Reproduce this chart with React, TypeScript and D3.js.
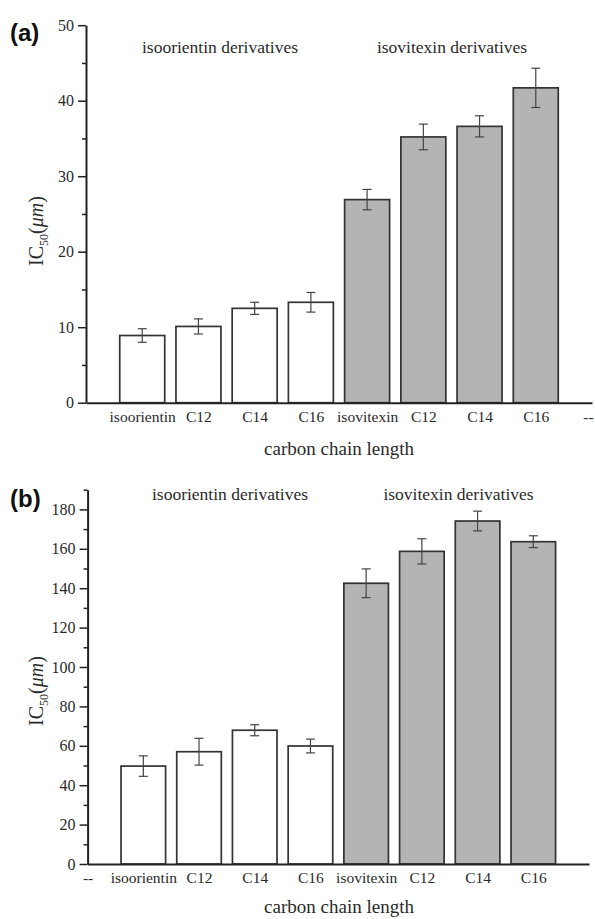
import React, { useEffect, useRef } from 'react';
import * as d3 from 'd3';

// category slots on the x axis (0 and 9 are the empty "--" slots)
const labelsA = ['', 'isoorientin', 'C12', 'C14', 'C16', 'isovitexin', 'C12', 'C14', 'C16', '--'];
const labelsB = ['--', 'isoorientin', 'C12', 'C14', 'C16', 'isovitexin', 'C12', 'C14', 'C16', ''];

// IC50 values (slots 1..8), and their errors
const valuesA = [8.9, 10.1, 12.5, 13.3, 26.9, 35.2, 36.6, 41.7];
const errorsA = [0.9, 1.0, 0.8, 1.3, 1.35, 1.7, 1.4, 2.6];
const valuesB = [49.7, 57.0, 67.9, 59.9, 142.5, 158.7, 174.1, 163.6];
const errorsB = [5.2, 6.8, 2.8, 3.5, 7.3, 6.4, 5.0, 3.0];

const ticksA = [0, 10, 20, 30, 40, 50];
const minorA = [5, 15, 25, 35, 45];
const ticksB = [0, 20, 40, 60, 80, 100, 120, 140, 160, 180];
const minorB = [10, 30, 50, 70, 90, 110, 130, 150, 170, 190];

const groupLabels = ['isoorientin derivatives', 'isovitexin derivatives'];

const serif = '"Liberation Serif", "Times New Roman", serif';

const App = () => {
    const svgRef = useRef();

    useEffect(() => {
        const svg = d3.select(svgRef.current);
        svg.selectAll('*').remove();

        const drawPanel = (opts) => {
            const { tag, labels, values, errors, ticks, minor, yMax, x0, x1, yTop, yBottom, groupY, groupX, titleY, ylabelY } = opts;
            const g = svg.append('g');
            const x = d3.scalePoint().domain(d3.range(10)).range([x0, x1]);
            const y = d3.scaleLinear().domain([0, yMax]).range([yBottom, yTop]);
            const bw = x.step() * 0.8;

            // bars
            values.forEach((v, i) => {
                const cx = x(i + 1);
                g.append('rect')
                    .attr('x', cx - bw / 2)
                    .attr('y', y(v))
                    .attr('width', bw)
                    .attr('height', y(0) - y(v))
                    .attr('fill', i < 4 ? '#ffffff' : '#b4b4b4')
                    .attr('stroke', '#333')
                    .attr('stroke-width', 1.7);
                const e = errors[i];
                const eb = g.append('g').attr('stroke', '#444').attr('stroke-width', 1.2);
                eb.append('line').attr('x1', cx).attr('x2', cx).attr('y1', y(v + e)).attr('y2', y(v - e));
                eb.append('line').attr('x1', cx - 4.5).attr('x2', cx + 4.5).attr('y1', y(v + e)).attr('y2', y(v + e));
                eb.append('line').attr('x1', cx - 4.5).attr('x2', cx + 4.5).attr('y1', y(v - e)).attr('y2', y(v - e));
            });

            // y axis
            const ya = g.append('g').attr('transform', `translate(${x0},0)`)
                .call(d3.axisLeft(y).tickValues(ticks).tickSize(8).tickSizeOuter(0).tickPadding(4));
            const ym = g.append('g').attr('transform', `translate(${x0},0)`)
                .call(d3.axisLeft(y).tickValues(minor).tickSize(4).tickFormat(() => ''));
            ym.select('.domain').remove();
            [ya, ym].forEach(a => {
                a.selectAll('line').attr('stroke', '#222').attr('stroke-width', 1.5);
                a.select('.domain').attr('stroke', '#222').attr('stroke-width', 2);
            });
            ya.selectAll('text').attr('font-family', serif).attr('font-size', 16).attr('fill', '#2a2a2a');

            // x axis
            const xa = g.append('g').attr('transform', `translate(0,${yBottom})`)
                .call(d3.axisBottom(x).tickSize(0).tickSizeOuter(0).tickPadding(8).tickFormat(i => labels[i]));
            xa.select('.domain').attr('stroke', '#222').attr('stroke-width', 2);
            xa.selectAll('text').attr('font-family', serif).attr('font-size', 15.5).attr('fill', '#2a2a2a')
                .attr('dx', i => (i === 9 ? -4 : 0));

            // group labels
            groupLabels.forEach((t, i) => {
                g.append('text').attr('x', groupX[i]).attr('y', groupY)
                    .attr('text-anchor', 'middle').attr('font-family', serif)
                    .attr('font-size', 17.5).attr('fill', '#2a2a2a').text(t);
            });

            // x title
            g.append('text').attr('x', 339).attr('y', titleY).attr('text-anchor', 'middle')
                .attr('font-family', serif).attr('font-size', 19).attr('fill', '#2a2a2a')
                .text('carbon chain length');

            // y title
            const yt = g.append('text')
                .attr('transform', `translate(43,${ylabelY}) rotate(-90)`)
                .attr('text-anchor', 'middle').attr('font-family', serif)
                .attr('font-size', 20).attr('fill', '#2a2a2a');
            yt.append('tspan').text('IC');
            yt.append('tspan').attr('font-size', 12).attr('dy', 5).text('50');
            yt.append('tspan').attr('dy', -5).text('(');
            yt.append('tspan').attr('font-style', 'italic').text('μ');
            yt.append('tspan').attr('font-style', 'italic').text('m');
            yt.append('tspan').text(')');

            // panel tag
            svg.append('text').attr('x', 10).attr('y', tag === '(a)' ? 41 : 507)
                .attr('font-family', '"Liberation Sans", Arial, sans-serif')
                .attr('font-weight', 'bold').attr('font-size', 24).attr('fill', '#111')
                .text(tag);
        };

        drawPanel({
            tag: '(a)', labels: labelsA, values: valuesA, errors: errorsA,
            ticks: ticksA, minor: minorA, yMax: 50,
            x0: 86, x1: 592, yTop: 25.2, yBottom: 402.7,
            groupY: 53, groupX: [220, 452], titleY: 455, ylabelY: 231
        });
        drawPanel({
            tag: '(b)', labels: labelsB, values: valuesB, errors: errorsB,
            ticks: ticksB, minor: minorB, yMax: 190,
            x0: 87.6, x1: 589, yTop: 489.7, yBottom: 864,
            groupY: 500, groupX: [230, 458.5], titleY: 913, ylabelY: 691
        });
    }, []);

    return (
        <svg ref={svgRef} width={595} height={919}
            style={{ position: 'absolute', left: 0, top: 0, background: '#fff' }}></svg>
    );
};

export default App;
